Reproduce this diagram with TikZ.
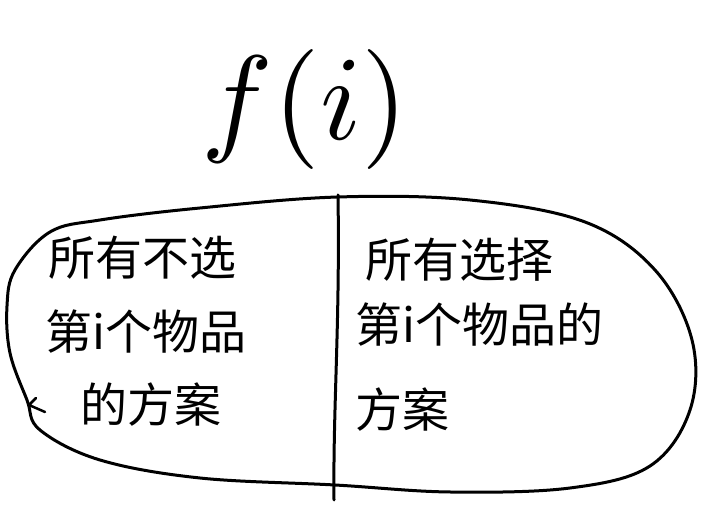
\documentclass[tikz,border=0pt]{standalone}
\usepackage{fontspec}
\newfontfamily\cjk{Noto Sans CJK SC}
\usepackage{tikz}
\usetikzlibrary{positioning}

\begin{document}
\begin{tikzpicture}[
    x=1pt, y=1pt,
    stroke/.style={line width=3pt, line cap=round, line join=round},
    label text/.style={anchor=west, inner sep=0pt, font=\cjk\fontsize{47}{47}\selectfont}
]
    \useasboundingbox (0,0) rectangle (714,526);

    % title
    \node[inner sep=0pt, scale=12] (title) at (305,416) {$f(i)$};

    % the set, split in two halves
    \draw[stroke] plot[smooth cycle, tension=0.6] coordinates {
        (338,329) (200,318) (100,306) (50,294) (15,256) (7,220)
        (10,173) (27,126) (40,96) (100,66) (200,48) (335,41)
        (450,34) (570,38) (650,60) (690,116) (692,186) (655,256)
        (585,304) (470,326)};
    \coordinate (top) at (338,331);
    \coordinate (bottom) at (334,26);
    \draw[stroke] (top) .. controls (340,200) and (333,120) .. (bottom);
    % stray tick
    \coordinate (tickA) at (36,128);
    \coordinate (tickB) at (29,121);
    \coordinate (tickC) at (45,114);
    \draw[stroke, line width=2.5pt] (tickA) -- (tickB) -- (tickC);

    % left half
    \node[label text] (l1) at (48,268) {所有不选};
    \node[label text] (l2) at (45,194) {第i个物品};
    \node[label text] (l3) at (80,121) {的方案};

    % right half
    \node[label text] (r1) at (365,266) {所有选择};
    \node[label text] (r2) at (355,201) {第i个物品的};
    \node[label text] (r3) at (355,116) {方案};
\end{tikzpicture}
\end{document}
